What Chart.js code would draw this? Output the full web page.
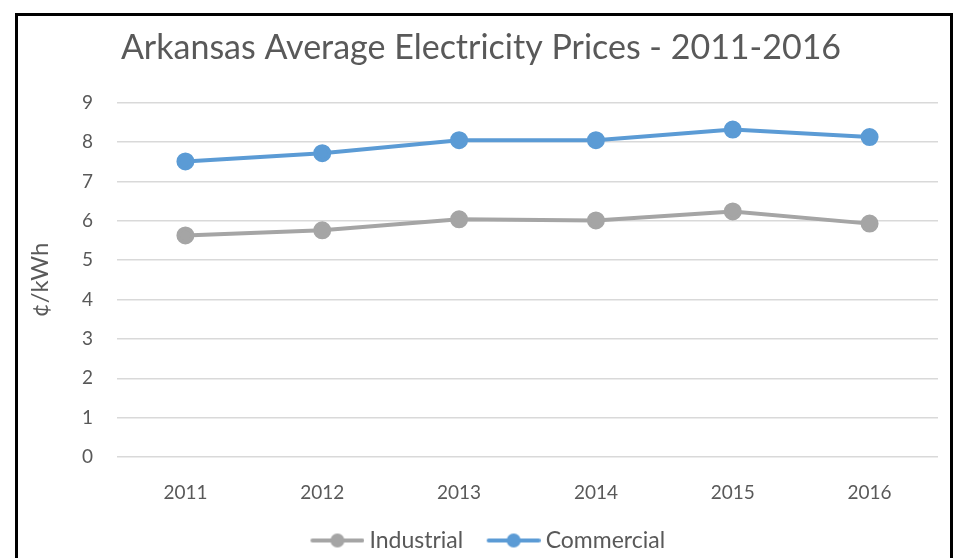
<!DOCTYPE html>
<html>
<head>
<meta charset="utf-8">
<script src="https://cdn.jsdelivr.net/npm/chart.js@4.4.1/dist/chart.umd.min.js"></script>
<style>
  html, body { margin: 0; padding: 0; background: #fff; }
  #wrap { position: relative; width: 957px; height: 558px; overflow: hidden; }
  #frame { position: absolute; left: 15px; top: 13px; width: 932px; height: 600px;
           border: 3px solid #000; pointer-events: none; }
  canvas { position: absolute; left: 0; top: 0; }
</style>
</head>
<body>
<div id="wrap">
  <canvas id="lineChart" width="957" height="558"></canvas>
  <div id="frame"></div>
</div>
<script>
// values (cents per kWh)
var years = ["2011", "2012", "2013", "2014", "2015", "2016"];
var industrial = [5.63, 5.76, 6.04, 6.01, 6.24, 5.93];
var commercial = [7.51, 7.72, 8.05, 8.05, 8.32, 8.13];
var yTicks = [0, 1, 2, 3, 4, 5, 6, 7, 8, 9];

var FONT = "Lato, 'Open Sans', sans-serif";
var TEXT = "#595959";

// legend symbol: line with a dot, like the spreadsheet legend
// (transparent room on the left so the gap to the text stays small)
function legendMark(color) {
  var c = document.createElement("canvas");
  c.width = 74; c.height = 16;
  var g = c.getContext("2d");
  g.strokeStyle = color;
  g.lineWidth = 4;
  g.lineCap = "round";
  g.beginPath(); g.moveTo(22, 8); g.lineTo(72, 8); g.stroke();
  g.fillStyle = color;
  g.beginPath(); g.arc(47, 8, 7, 0, Math.PI * 2); g.fill();
  return c;
}

var ctx = document.getElementById("lineChart");
var lineChart = new Chart(ctx, {
  type: 'line',
  data: {
    labels: years,
    datasets: [{
      label: "Industrial",
      data: industrial,
      borderColor: "#A5A5A5",
      backgroundColor: "#A5A5A5",
      pointBackgroundColor: "#A5A5A5",
      pointBorderColor: "#A5A5A5",
      borderWidth: 4,
      pointRadius: 7,
      tension: 0
    }, {
      label: "Commercial",
      data: commercial,
      borderColor: "#5B9BD5",
      backgroundColor: "#5B9BD5",
      pointBackgroundColor: "#5B9BD5",
      pointBorderColor: "#5B9BD5",
      borderWidth: 4,
      pointRadius: 7,
      tension: 0
    }]
  },
  options: {
    responsive: false,
    animation: false,
    layout: { padding: { left: 24, right: 19, top: 0, bottom: -4 } },
    plugins: {
      title: {
        display: true,
        text: "Arkansas Average Electricity Prices - 2011-2016",
        color: TEXT,
        font: { family: FONT, size: 34, weight: 'normal' },
        padding: { top: 28, bottom: 34 }
      },
      legend: {
        position: 'bottom',
        labels: {
          color: TEXT,
          font: { family: FONT, size: 23 },
          usePointStyle: true,
          pointStyleWidth: 61,
          padding: 10,
          generateLabels: function (chart) {
            var items = Chart.defaults.plugins.legend.labels.generateLabels(chart);
            items.forEach(function (it) {
              it.pointStyle = legendMark(chart.data.datasets[it.datasetIndex].borderColor);
            });
            return items;
          }
        }
      },
      tooltip: { enabled: false }
    },
    scales: {
      x: {
        offset: true,
        grid: { display: false },
        border: { display: false },
        ticks: { color: TEXT, font: { family: FONT, size: 19 }, padding: 16 },
        afterFit: function (s) { s.height = 62; }
      },
      y: {
        min: 0, max: 9,
        afterBuildTicks: function (s) { s.ticks = yTicks.map(function (v) { return { value: v }; }); },
        grid: { color: "#D9D9D9", lineWidth: 1.5, drawTicks: false },
        border: { display: false },
        ticks: { color: TEXT, font: { family: FONT, size: 19 }, padding: 24 },
        title: { display: true, text: "¢/kWh", color: TEXT, font: { family: FONT, size: 24 }, padding: { top: 2, bottom: 4 } },
        afterFit: function (s) { s.width = 93; }
      }
    }
  }
});
</script>
</body>
</html>
